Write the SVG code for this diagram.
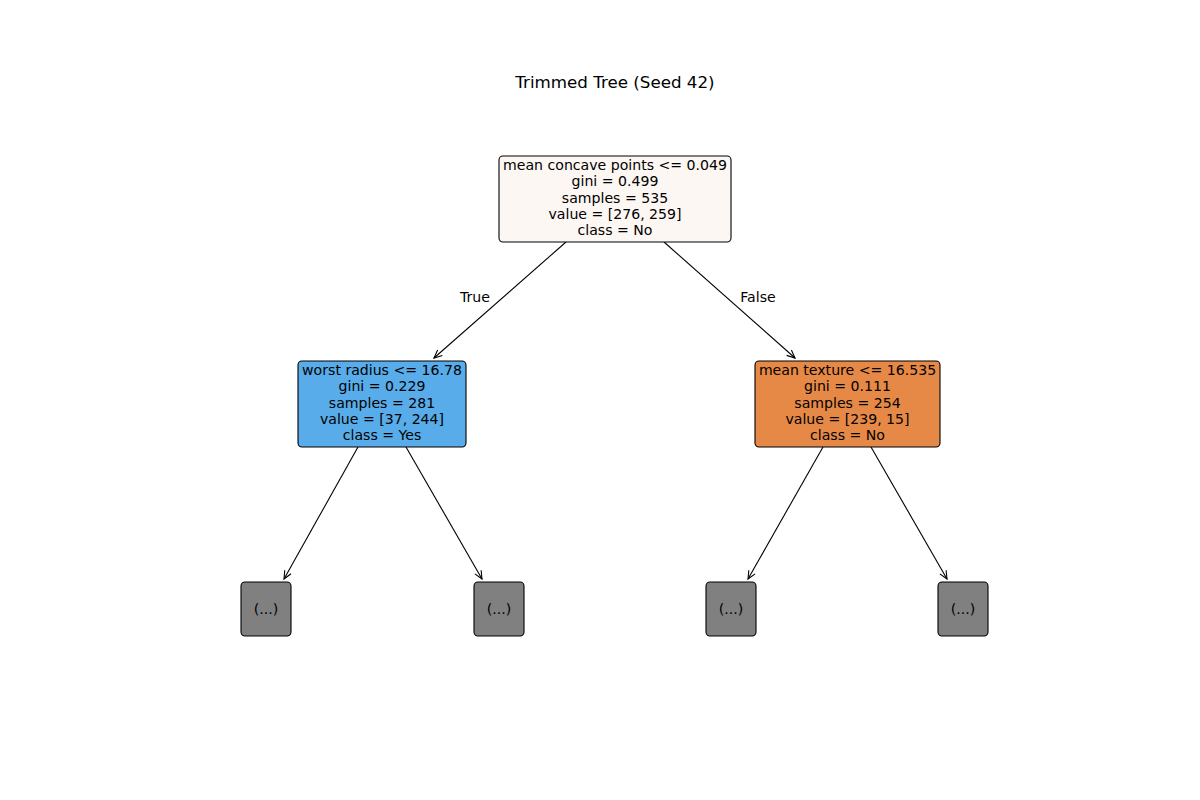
<svg xmlns="http://www.w3.org/2000/svg" width="1200" height="800" viewBox="0 0 1200 800">
  <style>
    text { font-family: "DejaVu Sans", "Liberation Sans", sans-serif; fill: #000; }
    .lbl { font-size: 14.1px; text-anchor: middle; }
    .title { font-size: 16.7px; text-anchor: middle; }
    .box { stroke: #000; stroke-width: 1.1; }
    .edge { stroke: #000; stroke-width: 1.1; fill: none; marker-end: url(#arrow); }
  </style>
  <defs>
    <marker id="arrow" viewBox="-10 -5 12 10" refX="0" refY="0" markerWidth="12" markerHeight="10" markerUnits="userSpaceOnUse" orient="auto">
      <polyline points="-8,-3.6 0,0 -8,3.6" fill="none" stroke="#000" stroke-width="1.1"/>
    </marker>
  </defs>
  <rect width="1200" height="800" fill="#fff"/>
  <text class="title" x="615" y="88">Trimmed Tree (Seed 42)</text>

  <g id="connectors">
    <line class="edge" x1="566" y1="242" x2="434" y2="358"/>
    <line class="edge" x1="664" y1="242" x2="795" y2="358"/>
    <line class="edge" x1="358" y1="447" x2="284" y2="579"/>
    <line class="edge" x1="406" y1="447" x2="482" y2="579"/>
    <line class="edge" x1="823" y1="447" x2="748" y2="579"/>
    <line class="edge" x1="871" y1="447" x2="947" y2="579"/>
    <text class="lbl" x="475" y="302">True</text>
    <text class="lbl" x="758" y="302">False</text>
  </g>

  <g id="root">
    <rect class="box" x="499" y="156" width="232" height="86" rx="4" fill="#fdf7f3"/>
    <text class="lbl" x="615" y="170">mean concave points &lt;= 0.049</text>
    <text class="lbl" x="615" y="186">gini = 0.499</text>
    <text class="lbl" x="615" y="203">samples = 535</text>
    <text class="lbl" x="615" y="219">value = [276, 259]</text>
    <text class="lbl" x="615" y="235">class = No</text>
  </g>

  <g id="node-left">
    <rect class="box" x="298" y="361" width="168" height="86" rx="4" fill="#58ace9"/>
    <text class="lbl" x="382" y="375">worst radius &lt;= 16.78</text>
    <text class="lbl" x="382" y="391">gini = 0.229</text>
    <text class="lbl" x="382" y="408">samples = 281</text>
    <text class="lbl" x="382" y="424">value = [37, 244]</text>
    <text class="lbl" x="382" y="440">class = Yes</text>
  </g>

  <g id="node-right">
    <rect class="box" x="755" y="361" width="185" height="86" rx="4" fill="#e78946"/>
    <text class="lbl" x="847.5" y="375">mean texture &lt;= 16.535</text>
    <text class="lbl" x="847.5" y="391">gini = 0.111</text>
    <text class="lbl" x="847.5" y="408">samples = 254</text>
    <text class="lbl" x="847.5" y="424">value = [239, 15]</text>
    <text class="lbl" x="847.5" y="440">class = No</text>
  </g>

  <g id="leaf-1">
    <rect class="box" x="241" y="582" width="50" height="54" rx="4" fill="#808080"/>
    <text class="lbl" x="266" y="614">(...)</text>
  </g>
  <g id="leaf-2">
    <rect class="box" x="474" y="582" width="50" height="54" rx="4" fill="#808080"/>
    <text class="lbl" x="499" y="614">(...)</text>
  </g>
  <g id="leaf-3">
    <rect class="box" x="706" y="582" width="50" height="54" rx="4" fill="#808080"/>
    <text class="lbl" x="731" y="614">(...)</text>
  </g>
  <g id="leaf-4">
    <rect class="box" x="938" y="582" width="50" height="54" rx="4" fill="#808080"/>
    <text class="lbl" x="963" y="614">(...)</text>
  </g>
</svg>
